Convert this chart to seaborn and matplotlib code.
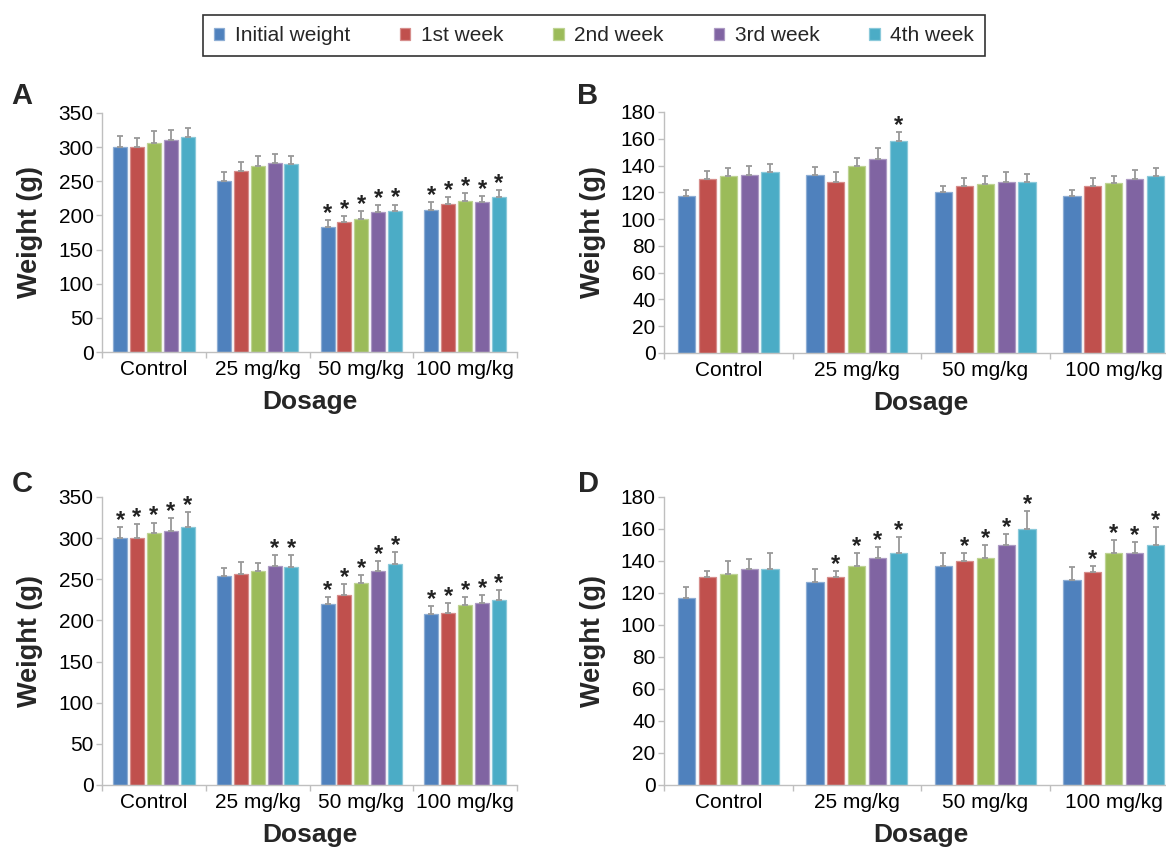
import numpy as np
import pandas as pd
import matplotlib
matplotlib.use("Agg")
import matplotlib.pyplot as plt
from matplotlib.ticker import FixedLocator
from matplotlib.container import BarContainer
from matplotlib.colors import to_rgb
import seaborn as sns

# ---------------- data ----------------
dosages = ["Control", "25 mg/kg", "50 mg/kg", "100 mg/kg"]
weeks = ["Initial weight", "1st week", "2nd week", "3rd week", "4th week"]
colors = ["#4F81BD", "#C0504D", "#9BBB59", "#8064A2", "#4BACC6"]

# values[dosage][week]
A_vals = [[300, 300, 306, 310, 315], [250, 265, 273, 277, 275],
          [183, 190, 195, 205, 207], [208, 217, 221, 219, 227]]
A_err = [[16, 14, 17, 15, 13], [13, 13, 14, 13, 12],
         [10, 9, 11, 10, 9], [11, 10, 12, 10, 10]]
A_star = [[0, 0, 0, 0, 0], [0, 0, 0, 0, 0], [1, 1, 1, 1, 1], [1, 1, 1, 1, 1]]

B_vals = [[117, 130, 132, 133, 135], [133, 128, 140, 145, 158],
          [120, 125, 126, 128, 128], [117, 125, 127, 130, 132]]
B_err = [[5, 6, 6, 7, 6], [6, 7, 6, 8, 7], [5, 6, 6, 7, 6], [5, 6, 5, 7, 6]]
B_star = [[0, 0, 0, 0, 0], [0, 0, 0, 0, 1], [0, 0, 0, 0, 0], [0, 0, 0, 0, 0]]

C_vals = [[300, 300, 306, 309, 314], [254, 256, 260, 266, 265],
          [220, 231, 245, 260, 268], [208, 209, 219, 221, 225]]
C_err = [[13, 17, 13, 15, 18], [10, 15, 10, 13, 15],
         [9, 13, 10, 12, 15], [9, 12, 10, 10, 12]]
C_star = [[1, 1, 1, 1, 1], [0, 0, 0, 1, 1], [1, 1, 1, 1, 1], [1, 1, 1, 1, 1]]

D_vals = [[117, 130, 132, 135, 135], [127, 130, 137, 142, 145],
          [137, 140, 142, 150, 160], [128, 133, 145, 145, 150]]
D_err = [[7, 4, 8, 6, 10], [8, 4, 8, 7, 10], [8, 5, 8, 7, 11], [8, 4, 8, 7, 11]]
D_star = [[0, 0, 0, 0, 0], [0, 1, 1, 1, 1], [0, 1, 1, 1, 1], [0, 1, 1, 1, 1]]

A_ticks = [0, 50, 100, 150, 200, 250, 300, 350]
B_ticks = [0, 20, 40, 60, 80, 100, 120, 140, 160, 180]

# ---------------- style ----------------
sns.set_theme(style="white")
plt.rcParams["font.family"] = ["Liberation Sans", "DejaVu Sans"]

W, H = 1166, 852
fig = plt.figure(figsize=(W / 100, H / 100), dpi=100)


def px_axes(left, right, top, bottom):
    return fig.add_axes([left / W, 1 - bottom / H, (right - left) / W, (bottom - top) / H])


def lighter(c, f=0.35):
    r, g, b = to_rgb(c)
    return (r + (1 - r) * f, g + (1 - g) * f, b + (1 - b) * f)


panels = [
    ("A", A_vals, A_err, A_star, A_ticks, (102, 517, 113, 352), (22, 96), 30),
    ("B", B_vals, B_err, B_star, B_ticks, (664, 1178, 112, 353), (588, 96), 593),
    ("C", C_vals, C_err, C_star, A_ticks, (102, 517, 497, 785), (22, 484), 30),
    ("D", D_vals, D_err, D_star, B_ticks, (664, 1178, 497, 785), (588, 484), 593),
]

axis_grey = "#BFBFBF"
legend_handles = None

for letter, vals, errs, stars, ticks, (l, r, t, b), (lx, ly), ylab_x in panels:
    ax = px_axes(l, r, t, b)
    rows = []
    for i, d in enumerate(dosages):
        for j, w in enumerate(weeks):
            rows.append({"Dosage": d, "Week": w, "Weight": vals[i][j]})
    df = pd.DataFrame(rows)
    sns.barplot(data=df, x="Dosage", y="Weight", hue="Week", order=dosages,
                hue_order=weeks, palette=colors, width=0.815, gap=0.17,
                errorbar=None, legend=False, linewidth=0, ax=ax, saturation=1)

    bar_conts = [c for c in ax.containers if isinstance(c, BarContainer)]
    if legend_handles is None:
        legend_handles = [c.patches[0] for c in bar_conts]
    for j, cont in enumerate(bar_conts):
        xs, ys, es = [], [], []
        for i, bar in enumerate(cont.patches):
            bar.set_edgecolor(lighter(colors[j]))
            bar.set_linewidth(0.9)
            xc = bar.get_x() + bar.get_width() / 2
            h = bar.get_height()
            xs.append(xc)
            ys.append(h)
            es.append(errs[i][j])
            if stars[i][j]:
                ax.annotate("*", xy=(xc, h + errs[i][j]), xytext=(0, 0),
                            textcoords="offset points", ha="center",
                            va="baseline", fontsize=17, fontweight="bold",
                            color="#222222", annotation_clip=False)
        ax.errorbar(xs, ys, yerr=[np.zeros(len(es)), es], fmt="none",
                    ecolor="#999999", elinewidth=1.3, capsize=2.5,
                    capthick=1.3, zorder=3)

    ymax = ticks[-1]
    ax.set_ylim(0, ymax)
    ax.set_xlim(-0.5, 3.5)
    ax.set_yticks(ticks)
    ax.xaxis.set_minor_locator(FixedLocator([-0.5, 0.5, 1.5, 2.5, 3.5]))
    ax.tick_params(axis="x", which="major", length=0, labelsize=15, pad=6,
                   labelcolor="black")
    ax.tick_params(axis="x", which="minor", length=4, color=axis_grey,
                   width=1, direction="out", bottom=True)
    ax.tick_params(axis="y", length=4, color=axis_grey, width=1,
                   direction="out", labelsize=15, pad=2, labelcolor="black",
                   left=True)
    for s in ["top", "right"]:
        ax.spines[s].set_visible(False)
    for s in ["left", "bottom"]:
        ax.spines[s].set_color(axis_grey)
        ax.spines[s].set_linewidth(1)

    ax.set_xlabel("Dosage", fontsize=19, fontweight="bold", va="center")
    ax.set_ylabel("Weight (g)", fontsize=19.5, fontweight="bold", va="center")
    wpx, hpx = (r - l), (b - t)
    ax.xaxis.set_label_coords(0.5, -50 / hpx)
    ax.yaxis.set_label_coords((ylab_x - l) / wpx, 0.5)

    fig.text(lx / W, 1 - ly / H, letter, ha="center", va="center",
             fontsize=21, fontweight="bold")

leg = fig.legend(legend_handles, weeks, loc="center",
                 bbox_to_anchor=(594 / W, 1 - 35.5 / H), ncol=5,
                 fontsize=15, handlelength=0.5, handleheight=0.5,
                 handletextpad=0.5, columnspacing=2.4, borderpad=0.55,
                 frameon=True, fancybox=False, edgecolor="black")
leg.get_frame().set_linewidth(1.2)

fig.savefig("out.png", dpi=100)
